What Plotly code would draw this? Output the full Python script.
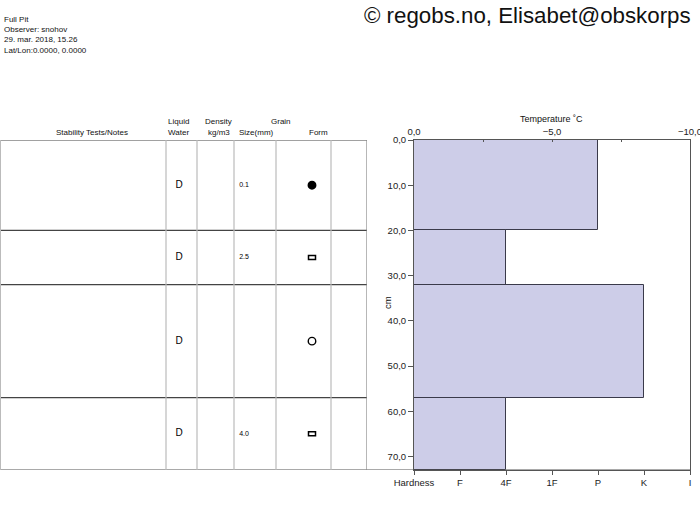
import plotly.graph_objects as go

# ---------------- data ----------------
layer_top = [0, 20, 32, 57]
layer_bottom = [20, 32, 57, 73]
hardness = ["P", "4F", "K", "4F"]
liquid_water = ["D", "D", "D", "D"]
grain_size = ["0.1", "2.5", "", "4.0"]
grain_form = ["circle", "rect", "circle-open", "rect"]

hardness_labels = ["Hardness", "F", "4F", "1F", "P", "K", "I"]
depth_ticks = [0, 10, 20, 30, 40, 50, 60, 70]
temp_ticks = [0, -5, -10]
temp_minor = [-2.5, -7.5]

header_lines = ["Full Pit", "Observer: snohov", "29. mar. 2018, 15.26", "Lat/Lon:0.0000, 0.0000"]
copyright_text = "© regobs.no, Elisabet@obskorps"

# ---------------- layout constants ----------------
W, H = 700, 525
FONT = "Liberation Sans, Arial, sans-serif"
plot_x0, plot_x1 = 414, 690
plot_y0, plot_y1 = 140, 470
table_x1 = 367
col_lines = [166, 197, 234, 276, 331]
col_lw, col_grain, col_form = 179, 244, 312
depth_max = 73
cm_per_px = depth_max / (plot_y1 - plot_y0)


def px(x):
    return x / W


def py(y):
    return 1 - y / H


fig = go.Figure()

mids = [(a + b) / 2 for a, b in zip(layer_top, layer_bottom)]
thick = [b - a for a, b in zip(layer_top, layer_bottom)]
hidx = [hardness_labels.index(h) for h in hardness]

fig.add_trace(go.Bar(
    orientation="h", x=hidx, y=mids, width=thick, base=0,
    marker=dict(color="#cdcde8", line=dict(color="#3a3a4a", width=1)),
    xaxis="x", yaxis="y", showlegend=False, hoverinfo="skip"))

# temperature axis (no temperature data recorded)
fig.add_trace(go.Scatter(x=[None], y=[None], xaxis="x2", yaxis="y",
                         mode="lines", showlegend=False, hoverinfo="skip"))

# table text: liquid water
fig.add_trace(go.Scatter(
    x=[col_lw] * len(mids), y=mids, text=liquid_water, mode="text",
    textfont=dict(family=FONT, size=10, color="#000"),
    xaxis="x3", yaxis="y", showlegend=False, hoverinfo="skip"))
# grain size
fig.add_trace(go.Scatter(
    x=[col_grain] * len(mids), y=mids, text=grain_size, mode="text",
    textfont=dict(family=FONT, size=7, color="#000"),
    xaxis="x3", yaxis="y", showlegend=False, hoverinfo="skip"))

shapes = []
# grain forms
sym_map = {"circle": "circle", "circle-open": "circle-open"}
for m, f in zip(mids, grain_form):
    if f == "rect":
        shapes.append(dict(type="rect", xref="x3", yref="y",
                           x0=col_form - 3.5, x1=col_form + 3.5,
                           y0=m - 2 * cm_per_px, y1=m + 2 * cm_per_px,
                           line=dict(color="#000", width=1.5), fillcolor="white"))
    else:
        fig.add_trace(go.Scatter(
            x=[col_form], y=[m], mode="markers",
            marker=dict(symbol=sym_map[f], size=7.5, color="#000",
                        line=dict(color="#000", width=1.4)),
            xaxis="x3", yaxis="y", showlegend=False, hoverinfo="skip"))

# horizontal layer lines in table
for yv in layer_top:
    shapes.append(dict(type="line", xref="x3", yref="y", x0=0, x1=table_x1,
                       y0=yv, y1=yv, line=dict(color="#444", width=1.2)))
# bottom line across everything
shapes.append(dict(type="line", xref="paper", yref="y", x0=0, x1=px(plot_x1),
                   y0=depth_max, y1=depth_max, line=dict(color="#555", width=1.2)))
# vertical column lines
shapes.append(dict(type="line", xref="x3", yref="y", x0=0.5, x1=0.5,
                   y0=0, y1=depth_max, line=dict(color="#bbbbbb", width=1)))
for xc in col_lines:
    shapes.append(dict(type="line", xref="x3", yref="y", x0=xc, x1=xc,
                       y0=0, y1=depth_max, line=dict(color="#bbbbbb", width=1.2)))
shapes.append(dict(type="line", xref="x3", yref="y", x0=table_x1, x1=table_x1,
                   y0=0, y1=depth_max, line=dict(color="#888888", width=1.2)))

annotations = []
for i, t in enumerate(header_lines):
    annotations.append(dict(text=t, x=px(2), y=py(19 + i * 10.5), xref="paper", yref="paper",
                            xanchor="left", yanchor="middle", showarrow=False,
                            font=dict(family=FONT, size=8, color="#111")))
annotations.append(dict(text=copyright_text, x=px(527), y=py(16), xref="paper", yref="paper",
                        xanchor="center", yanchor="middle", showarrow=False,
                        font=dict(family=FONT, size=22.3, color="#111")))

hdr = [("Stability Tests/Notes", 92, 132), ("Liquid", 178, 122), ("Water", 178, 132),
       ("Density", 219, 122), ("kg/m3", 219, 132), ("Grain", 281, 122),
       ("Size(mm)", 256, 132), ("Form", 318, 132)]
for t, x, y in hdr:
    annotations.append(dict(text=t, x=px(x), y=py(y), xref="paper", yref="paper",
                            xanchor="center", yanchor="middle", showarrow=False,
                            font=dict(family=FONT, size=8, color="#111")))
annotations.append(dict(text="Temperature ˚C", x=px(551), y=py(119), xref="paper", yref="paper",
                        xanchor="center", yanchor="middle", showarrow=False,
                        font=dict(family=FONT, size=9, color="#111")))
annotations.append(dict(text="cm", x=px(387), y=py(303), xref="paper", yref="paper",
                        xanchor="center", yanchor="middle", showarrow=False, textangle=-90,
                        font=dict(family=FONT, size=9.5, color="#111")))

tickfont = dict(family=FONT, size=9.5, color="#222")

fig.update_layout(
    template="none",
    width=W, height=H, margin=dict(l=0, r=0, t=0, b=0, autoexpand=False),
    paper_bgcolor="white", plot_bgcolor="white",
    font=dict(family=FONT),
    bargap=0, showlegend=False,
    xaxis=dict(domain=[px(plot_x0), px(plot_x1)], range=[0, 6], anchor="y", automargin=False,
               tickvals=list(range(len(hardness_labels))), ticktext=hardness_labels,
               ticklabeloverflow="allow",
               showgrid=False, zeroline=False, showline=True, linecolor="#555", linewidth=1,
               ticks="outside", ticklen=4, tickcolor="#555", tickfont=tickfont, fixedrange=True),
    xaxis2=dict(overlaying="x", side="top", anchor="y", range=[0, -10], automargin=False,
                tickvals=temp_ticks, ticktext=["0,0", "\u22125,0", "\u221210,0"],
                ticklabeloverflow="allow",
                minor=dict(tickvals=temp_minor, ticks="inside", ticklen=2, tickcolor="#555"),
                showgrid=False, zeroline=False, showline=True, linecolor="#555", linewidth=1,
                ticks="inside", ticklen=2, tickcolor="#555", tickfont=tickfont),
    xaxis3=dict(domain=[0, px(table_x1)], range=[0, table_x1], anchor="y",
                visible=False, fixedrange=True, automargin=False),
    yaxis=dict(domain=[py(plot_y1), py(plot_y0)], range=[depth_max, 0], anchor="x",
               automargin=False, ticklabeloverflow="allow",
               tickvals=depth_ticks, ticktext=[f"{v},0" for v in depth_ticks],
               showgrid=False, zeroline=False, showline=True, mirror=True, linecolor="#555",
               linewidth=1, ticks="outside", ticklen=5, tickcolor="#555", tickfont=tickfont),
    shapes=shapes, annotations=annotations,
)

fig.write_html("out.html")
